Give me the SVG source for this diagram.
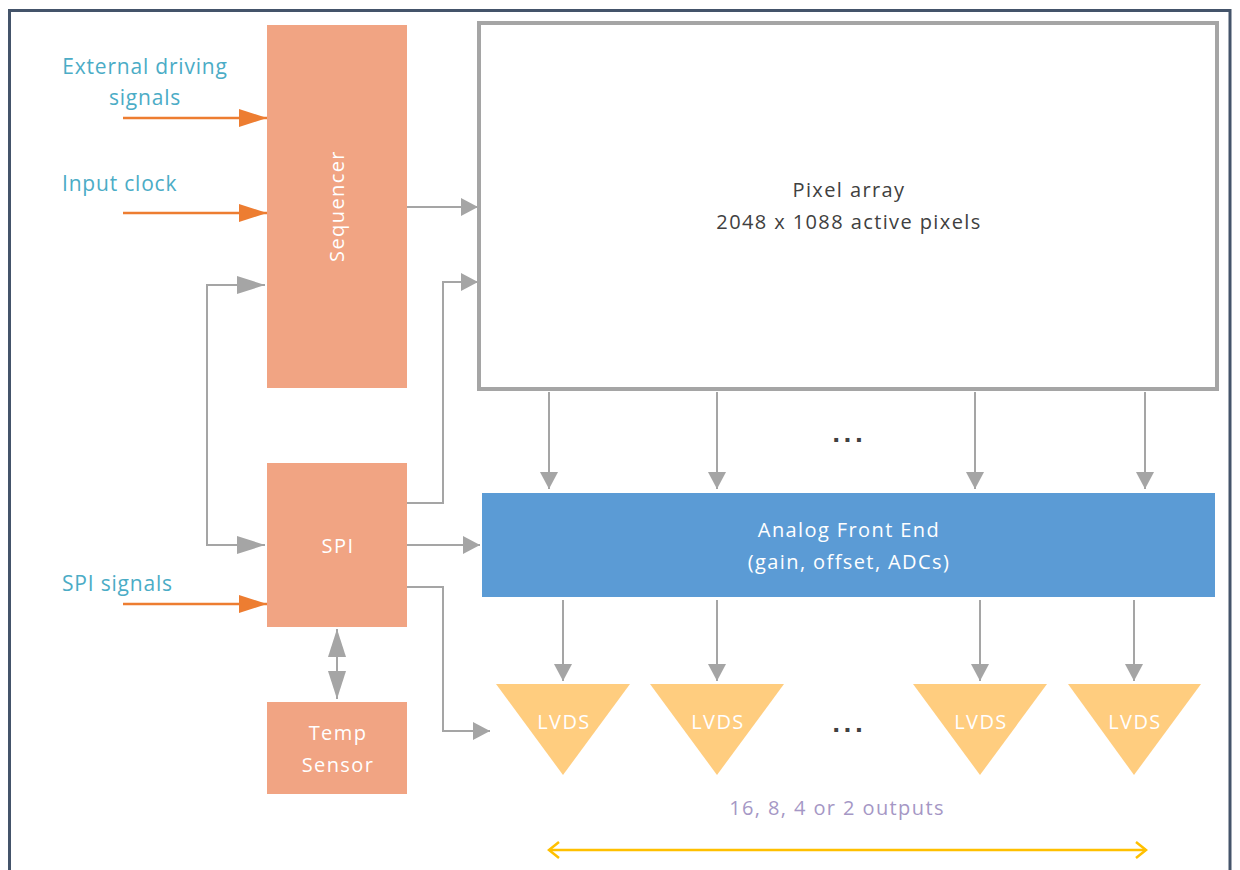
<svg xmlns="http://www.w3.org/2000/svg" width="1240" height="870" viewBox="0 0 1240 870">
<defs>
<style>
.blk{fill:#F1A483}
.wt{fill:#FFFFFF;font-family:"Open Sans",sans-serif;font-size:20px;letter-spacing:1.4px;text-anchor:middle}
.dk{fill:#404040;font-family:"Open Sans",sans-serif;font-size:20px;letter-spacing:1.4px;text-anchor:middle}
.cy{fill:#4BACC6;font-family:"Open Sans",sans-serif;font-size:21px;letter-spacing:0.8px}
.dots{fill:#404040;font-family:"DejaVu Sans",sans-serif;font-weight:bold;font-size:22px;letter-spacing:3px;text-anchor:middle}
.gl{fill:none;stroke:#A5A5A5;stroke-width:2}
.ol{fill:none;stroke:#ED7D31;stroke-width:2.5}
</style>
<marker id="ga" markerUnits="userSpaceOnUse" markerWidth="18" markerHeight="18" refX="17" refY="9" orient="auto"><path d="M0,0 L17,9 L0,18 Z" fill="#A5A5A5"/></marker>
<marker id="gb" markerUnits="userSpaceOnUse" markerWidth="28" markerHeight="18" refX="28" refY="9" orient="auto"><path d="M0,0 L28,9 L0,18 Z" fill="#A5A5A5"/></marker>
<marker id="gbs" markerUnits="userSpaceOnUse" markerWidth="28" markerHeight="18" refX="0" refY="9" orient="auto"><path d="M28,0 L0,9 L28,18 Z" fill="#A5A5A5"/></marker>
<marker id="oa" markerUnits="userSpaceOnUse" markerWidth="28" markerHeight="18" refX="28" refY="9" orient="auto"><path d="M0,0 L28,9 L0,18 Z" fill="#ED7D31"/></marker>
<marker id="ya" markerUnits="userSpaceOnUse" markerWidth="14" markerHeight="20" refX="12" refY="10" orient="auto-start-reverse"><path d="M2,2 L12,10 L2,18" fill="none" stroke="#FFC000" stroke-width="2.5"/></marker>
</defs>
<rect width="1240" height="870" fill="#FFFFFF"/>
<path d="M9.5,880 L9.5,10.5 L1230,10.5 L1230,880" fill="none" stroke="#44546A" stroke-width="3"/>

<g id="connectors">
<line class="ol" x1="123" y1="118" x2="267" y2="118" marker-end="url(#oa)"/>
<line class="ol" x1="123" y1="213" x2="267" y2="213" marker-end="url(#oa)"/>
<line class="ol" x1="123" y1="604" x2="267" y2="604" marker-end="url(#oa)"/>
<line class="gl" x1="407" y1="207" x2="478" y2="207" marker-end="url(#ga)"/>
<path class="gl" d="M265,285 L207,285 L207,545 L265,545" marker-start="url(#gbs)" marker-end="url(#gb)"/>
<path class="gl" d="M407,503 L443,503 L443,282 L478,282" marker-end="url(#ga)"/>
<line class="gl" x1="407" y1="545" x2="480" y2="545" marker-end="url(#ga)"/>
<path class="gl" d="M407,587 L443,587 L443,731 L490,731" marker-end="url(#ga)"/>
<line class="gl" x1="337" y1="629" x2="337" y2="699" marker-start="url(#gbs)" marker-end="url(#gb)"/>
<line class="gl" x1="549" y1="392" x2="549" y2="489" marker-end="url(#ga)"/>
<line class="gl" x1="717" y1="392" x2="717" y2="489" marker-end="url(#ga)"/>
<line class="gl" x1="975" y1="392" x2="975" y2="489" marker-end="url(#ga)"/>
<line class="gl" x1="1145" y1="392" x2="1145" y2="489" marker-end="url(#ga)"/>
<line class="gl" x1="563" y1="600" x2="563" y2="681" marker-end="url(#ga)"/>
<line class="gl" x1="717" y1="600" x2="717" y2="681" marker-end="url(#ga)"/>
<line class="gl" x1="980" y1="600" x2="980" y2="681" marker-end="url(#ga)"/>
<line class="gl" x1="1134" y1="600" x2="1134" y2="681" marker-end="url(#ga)"/>
<line x1="549" y1="850" x2="1146" y2="850" stroke="#FFC000" stroke-width="2.5" marker-start="url(#ya)" marker-end="url(#ya)"/>
</g>

<g id="labels">
<text class="cy" x="145" y="74" text-anchor="middle">External driving</text>
<text class="cy" x="145" y="105" text-anchor="middle">signals</text>
<text class="cy" x="62" y="191">Input clock</text>
<text class="cy" x="62" y="591">SPI signals</text>
<text class="dots" x="849" y="442">...</text>
<text class="dots" x="849" y="732">...</text>
<text x="837" y="815" fill="#A597C5" font-family="'Open Sans',sans-serif" font-size="20" letter-spacing="1.4" text-anchor="middle">16, 8, 4 or 2 outputs</text>
</g>

<g id="sequencer">
<rect class="blk" x="267" y="25" width="140" height="363"/>
<text class="wt" transform="translate(344,206) rotate(-90)">Sequencer</text>
</g>
<g id="pixel-array">
<rect x="479" y="23" width="738" height="366" fill="#FFFFFF" stroke="#A5A5A5" stroke-width="4"/>
<text class="dk" x="849" y="197">Pixel array</text>
<text class="dk" x="849" y="229">2048 x 1088 active pixels</text>
</g>
<g id="spi">
<rect class="blk" x="267" y="463" width="140" height="164"/>
<text class="wt" x="338" y="553">SPI</text>
</g>
<g id="temp-sensor">
<rect class="blk" x="267" y="702" width="140" height="92"/>
<text class="wt" x="338" y="740">Temp</text>
<text class="wt" x="338" y="772">Sensor</text>
</g>
<g id="afe">
<rect x="482" y="493" width="733" height="104" fill="#5B9BD5"/>
<text class="wt" x="849" y="537">Analog Front End</text>
<text class="wt" x="849" y="569">(gain, offset, ADCs)</text>
</g>
<g id="lvds1"><path d="M496,684 L630,684 L563,775 Z" fill="#FFCD7F"/><text class="wt" x="564" y="729">LVDS</text></g>
<g id="lvds2"><path d="M650,684 L784,684 L717,775 Z" fill="#FFCD7F"/><text class="wt" x="718" y="729">LVDS</text></g>
<g id="lvds3"><path d="M913,684 L1047,684 L980,775 Z" fill="#FFCD7F"/><text class="wt" x="981" y="729">LVDS</text></g>
<g id="lvds4"><path d="M1068,684 L1201,684 L1134,775 Z" fill="#FFCD7F"/><text class="wt" x="1135" y="729">LVDS</text></g>
</svg>
